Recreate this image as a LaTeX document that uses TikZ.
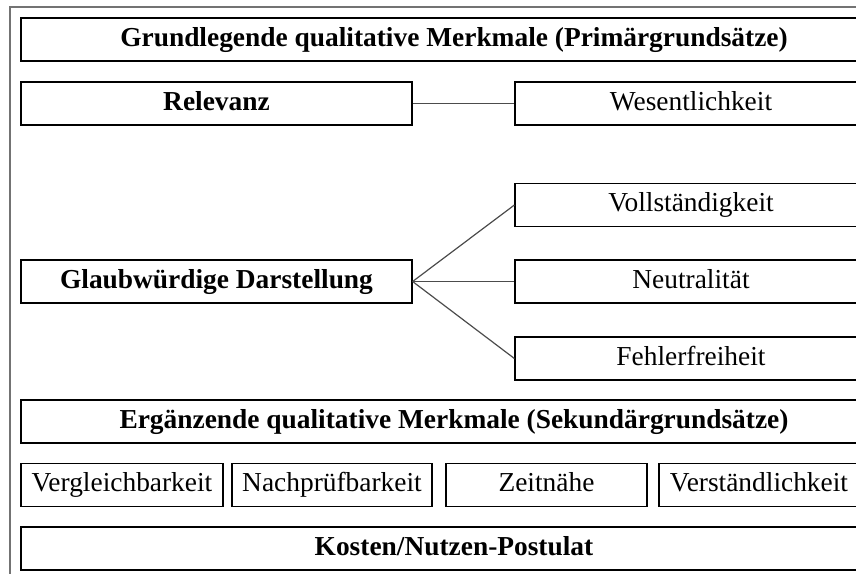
\documentclass[tikz,border=0pt]{standalone}
\usepackage{fontspec}
\setmainfont{Liberation Serif}
\usepackage{tikz}
\usetikzlibrary{positioning}

\begin{document}
\begin{tikzpicture}
      [x=0.5pt, y=-0.5pt,
       every node/.style={font=\fontsize{13.7}{16}\selectfont},
       box/.style={draw, line width=0.6pt, inner sep=0pt, minimum height=21.5pt,
                   text height=9.6pt, text depth=3pt},
       head/.style={box, font=\fontsize{13.7}{16}\selectfont\bfseries, minimum width=433pt},
       part/.style={box, minimum width=176pt},
       link/.style={draw=black!70, line width=0.6pt}]
      \useasboundingbox (0, 0) rectangle (856, 573);
      \clip (0, 0) rectangle (856, 573);
      \draw [black!55, line width=0.6pt] (10, 7) rectangle (900, 620);

      \node (prim) [head] at (454, 39.5) {Grundlegende qualitative Merkmale (Primärgrundsätze)};
      \node (rel) [box, minimum width=195.5pt, font=\fontsize{13.7}{16}\selectfont\bfseries] at (216.5, 103.5) {Relevanz};
      \node (wes) [part] at (691, 103.5) {Wesentlichkeit};
      \node (glaub) [box, minimum width=195.5pt, font=\fontsize{13.7}{16}\selectfont\bfseries] at (216.5, 281.5) {Glaubwürdige Darstellung};
      \node (voll) [part] at (691, 205) {Vollständigkeit};
      \node (neut) [part] at (691, 281.5) {Neutralität};
      \node (fehl) [part] at (691, 358.5) {Fehlerfreiheit};
      \node (sek) [head] at (454, 421.5) {Ergänzende qualitative Merkmale (Sekundärgrundsätze)};
      \node (vgl) [box, minimum width=101pt] at (122, 485) {Vergleichbarkeit};
      \node (npr) [box, minimum width=100pt] at (332, 485) {Nachprüfbarkeit};
      \node (zeit) [box, minimum width=100.5pt] at (546.5, 485) {Zeitnähe};
      \node (verst) [box, minimum width=100pt] at (759, 485) {Verständlichkeit};
      \node (kost) [head] at (454, 548.5) {Kosten/Nutzen-Postulat\hspace{24pt}};

      \draw [link] (rel) -- (wes);
      \draw [link] (glaub.east) -- (voll.west);
      \draw [link] (glaub.east) -- (neut.west);
      \draw [link] (glaub.east) -- (fehl.west);
    \end{tikzpicture}
\end{document}
